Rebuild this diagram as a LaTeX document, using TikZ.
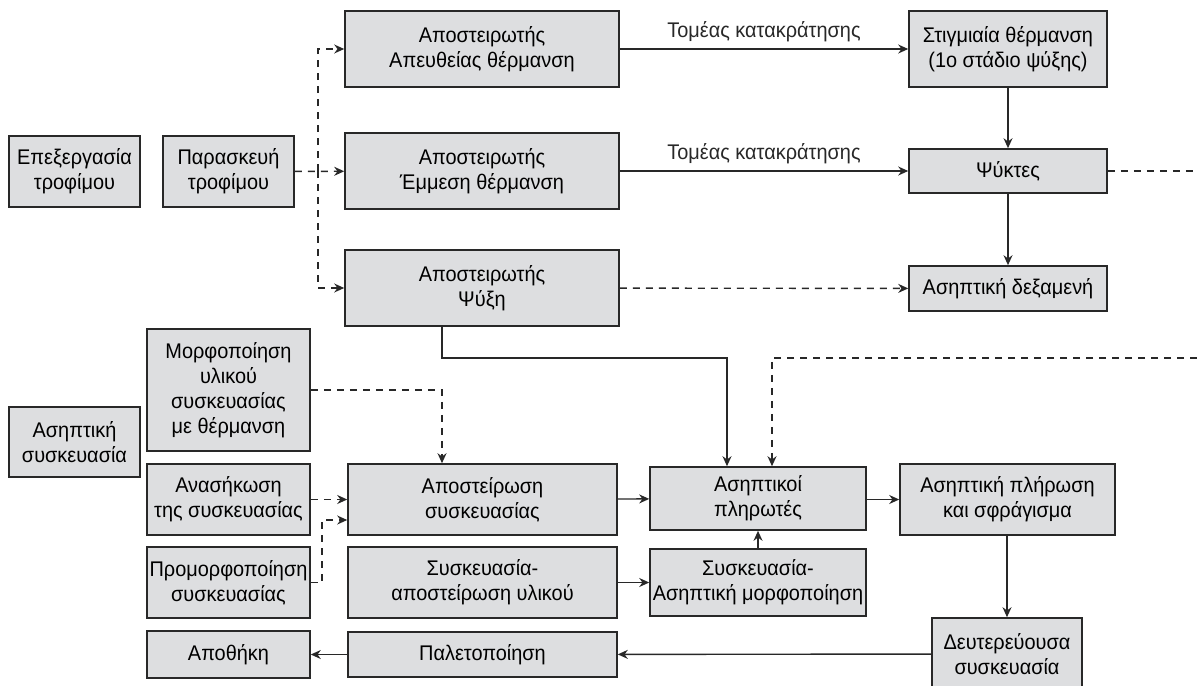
\documentclass[tikz,border=0pt]{standalone}
\usepackage{fontspec}
\setmainfont{Liberation Sans}[FakeStretch=0.94]
\usetikzlibrary{arrows.meta}
\definecolor{boxgray}{RGB}{221,222,224}
\definecolor{linegray}{RGB}{40,40,40}
\begin{document}
\begin{tikzpicture}[x=0.5pt,y=-0.5pt,>={Stealth[length=5pt,width=4.5pt]}]
 \tikzstyle{b} = [draw=linegray, fill=boxgray, line width=0.8pt, align=center, inner xsep=1pt, inner ysep=2pt, font=\fontsize{10.6}{12.5}\selectfont]
    \tikzstyle{e} = [linegray, line width=0.7pt, ->]
    \tikzstyle{d} = [e, dash pattern=on 3.5pt off 3pt]
    \tikzstyle{lab} = [font=\fontsize{10.6}{12}\selectfont, above, inner sep=3pt]
    %%
    \useasboundingbox (0,0) rectangle (1197,685);

        % left column
        \node[b, minimum width=65.5pt, minimum height=35.5pt] (epex) at (74.5,171.5) {Επεξεργασία\\τροφίμου};
        \node[b, minimum width=65.5pt, minimum height=35.5pt] (paras) at (228.5,171.5) {Παρασκευή\\τροφίμου};
        \node[b, minimum width=65.5pt, minimum height=35pt] (asys) at (74.5,442) {Ασηπτική\\συσκευασία};

        % sterilisers
        \node[b, minimum width=137pt, minimum height=38pt] (apA) at (482,49) {Αποστειρωτής\\Απευθείας θέρμανση};
        \node[b, minimum width=137pt, minimum height=38pt] (apE) at (482,171) {Αποστειρωτής\\Έμμεση θέρμανση};
        \node[b, minimum width=137pt, minimum height=38pt] (apP) at (482,288) {Αποστειρωτής\\Ψύξη};

        % right column
        \node[b, minimum width=99pt, minimum height=38pt] (stig) at (1008,49) {Στιγμιαία θέρμανση\\(1ο στάδιο ψύξης)};
        \node[b, minimum width=99pt, minimum height=22pt] (psyk) at (1008,171) {Ψύκτες};
        \node[b, minimum width=99pt, minimum height=22.5pt] (dexa) at (1008,288.5) {Ασηπτική δεξαμενή};

        % packaging
        \node[b, minimum width=81.5pt, minimum height=61pt] (morf) at (228.5,390) {Μορφοποίηση\\υλικού\\συσκευασίας\\με θέρμανση};
        \node[b, minimum width=81.5pt, minimum height=35.5pt] (anas) at (228.5,499.5) {Ανασήκωση\\της συσκευασίας};
        \node[b, minimum width=81.5pt, minimum height=35.5pt] (promo) at (228.5,582.5) {Προμορφοποίηση\\συσκευασίας};
        \node[b, minimum width=81.5pt, minimum height=23.5pt] (apoth) at (228.5,654.5) {Αποθήκη};
        \node[b, minimum width=134.5pt, minimum height=35.5pt] (asteir) at (482.5,499.5) {Αποστείρωση\\συσκευασίας};
        \node[b, minimum width=134.5pt, minimum height=35.5pt] (sysyl) at (482.5,582.5) {Συσκευασία-\\αποστείρωση υλικού};
        \node[b, minimum width=134.5pt, minimum height=22.5pt] (palet) at (482.5,654.5) {Παλετοποίηση};
        \node[b, minimum width=108pt, minimum height=31.5pt] (plir) at (758,498.5) {Ασηπτικοί\\πληρωτές};
        \node[b, minimum width=108pt, minimum height=33.5pt] (symorf) at (758,582.5) {Συσκευασία-\\Ασηπτική μορφοποίηση};
        \node[b, minimum width=107.5pt, minimum height=35.5pt] (plirosi) at (1007.5,499.5) {Ασηπτική πλήρωση\\και σφράγισμα};
        \node[b, minimum width=75pt, minimum height=36pt] (deut) at (1007,654) {Δευτερεύουσα\\συσκευασία};

        % turning points
        \coordinate (br) at (318,171);
        \coordinate (c1) at (442,358);
        \coordinate (c2) at (727,358);
        \coordinate (c3) at (322,520);
        \coordinate (c4) at (772,358);
        \coordinate (c5) at (1215,171);
        \coordinate (c6) at (1215,358);

        % top part
        \draw[d] (paras) -- (apE);
        \draw[d] (br) |- (apA); \draw[d] (br) |- (apP);
        \draw[e] (apA) -- node[lab] (t1) {Τομέας κατακράτησης} (stig);
        \draw[e] (apE) -- node[lab] (t2) {Τομέας κατακράτησης} (psyk);
        \draw[d] (apP) -- (dexa);
        \draw[e] (stig) -- (psyk); \draw[e] (psyk) -- (dexa);
        \draw[d] (psyk.east) -- (c5) -- (c6) -- (c4) -- (c4 |- plir.north);
        \draw[e] (c1 |- apP.south) -- (c1) -- (c2) -- (c2 |- plir.north);

        % bottom part
        \draw[d] (morf.east) -| (c1 |- asteir.north);
        \draw[d] (anas) -- (asteir);
        \draw[d] (promo.east) -| (c3) -- (c3 -| asteir.west);
        \draw[e] (asteir) -- (plir);
        \draw[e] (sysyl) -- (symorf);
        \draw[e] (symorf) -- (plir);
        \draw[e] (plir.east |- plirosi) -- (plirosi);
        \draw[e] (plirosi.south -| deut.north) -- (deut);
        \draw[e] (deut) -- (palet);
        \draw[e] (palet) -- (apoth);

    \end{tikzpicture}
\end{document}
